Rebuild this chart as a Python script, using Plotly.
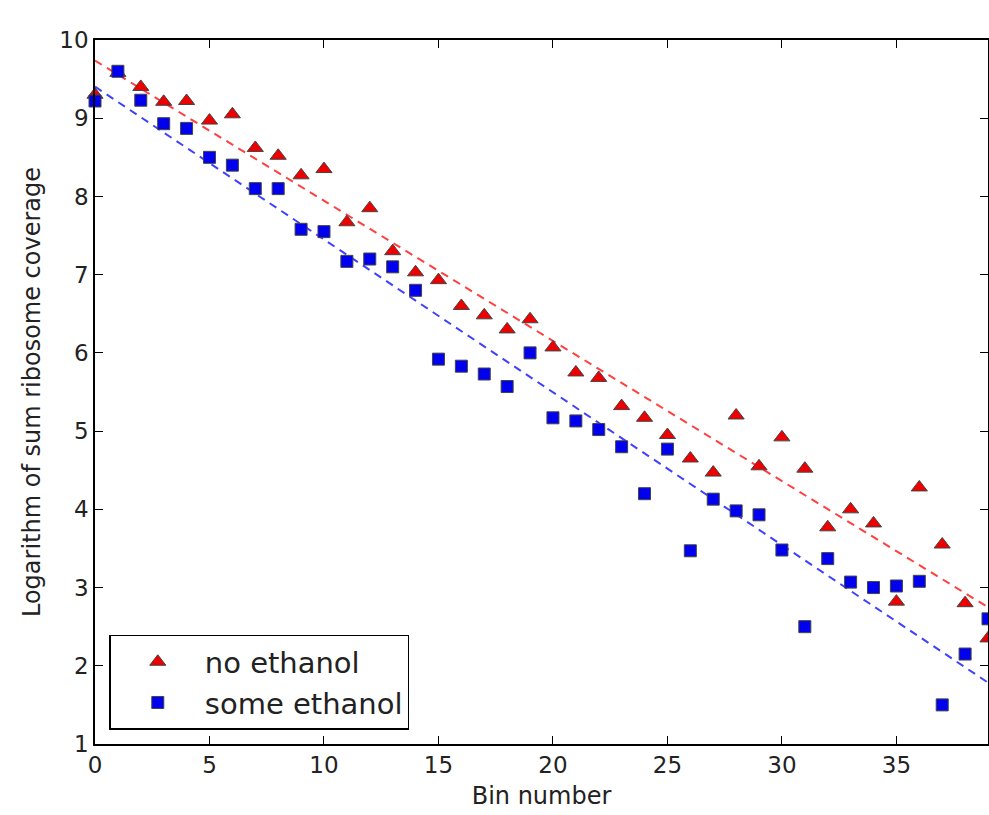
import numpy as np
import plotly.graph_objects as go

bins = list(range(40))
no_ethanol = [9.30, 9.58, 9.40, 9.21, 9.22, 8.97, 9.05, 8.62, 8.52, 8.27,
              8.35, 7.67, 7.85, 7.30, 7.03, 6.93, 6.60, 6.48, 6.30, 6.43,
              6.07, 5.75, 5.68, 5.32, 5.17, 4.95, 4.65, 4.47, 5.20, 4.55,
              4.92, 4.52, 3.77, 4.00, 3.82, 2.82, 4.28, 3.55, 2.80, 2.35]
some_ethanol = [9.22, 9.60, 9.23, 8.93, 8.87, 8.50, 8.40, 8.10, 8.10, 7.58,
                7.55, 7.17, 7.20, 7.10, 6.80, 5.92, 5.83, 5.73, 5.57, 6.00,
                5.17, 5.13, 5.02, 4.80, 4.20, 4.77, 3.47, 4.13, 3.98, 3.93,
                3.48, 2.50, 3.37, 3.07, 3.00, 3.02, 3.08, 1.50, 2.15, 2.60]
x_ticks = [0, 5, 10, 15, 20, 25, 30, 35]
y_ticks = [1, 2, 3, 4, 5, 6, 7, 8, 9, 10]

xb = np.array(bins, dtype=float)
fit_red = np.polyval(np.polyfit(xb, no_ethanol, 1), xb)
fit_blue = np.polyval(np.polyfit(xb, some_ethanol, 1), xb)

FONT = "DejaVu Sans"
TXT = "#222222"
fig = go.Figure()
fig.add_trace(go.Scatter(x=bins, y=fit_red, mode="lines", showlegend=False,
                         line=dict(color="rgba(255,30,30,0.85)", width=2, dash="8px,6px"),
                         hoverinfo="skip"))
fig.add_trace(go.Scatter(x=bins, y=fit_blue, mode="lines", showlegend=False,
                         line=dict(color="rgba(30,30,255,0.85)", width=2, dash="8px,6px"),
                         hoverinfo="skip"))
fig.add_trace(go.Scatter(x=bins, y=no_ethanol, mode="markers", name="no ethanol",
                         marker=dict(symbol="triangle-up", size=14, color="#ee0000",
                                     line=dict(color="#444444", width=1)),
                         cliponaxis=False))
fig.add_trace(go.Scatter(x=bins, y=some_ethanol, mode="markers", name="some ethanol",
                         marker=dict(symbol="square", size=12, color="#0000ee",
                                     line=dict(color="#444444", width=1)),
                         cliponaxis=False))

axis_common = dict(showline=True, linecolor="black", linewidth=1.5, mirror="allticks",
                   ticks="inside", ticklen=8, tickwidth=1, tickcolor="black",
                   showgrid=False, zeroline=False, automargin=False,
                   tickfont=dict(family=FONT, size=23, color=TXT))
fig.update_xaxes(range=[0, 39], tickvals=x_ticks, ticktext=[str(v) for v in x_ticks],
                 title=dict(text="Bin number", font=dict(family=FONT, size=24, color=TXT),
                            standoff=10),
                 **axis_common)
fig.update_yaxes(range=[1, 10], tickvals=y_ticks, ticktext=[str(v) for v in y_ticks],
                 title=dict(text="Logarithm of sum ribosome coverage",
                            font=dict(family=FONT, size=24, color=TXT), standoff=12),
                 **axis_common)
fig.update_layout(
    width=989, height=815,
    margin=dict(l=95, r=1, t=40, b=71),
    plot_bgcolor="white", paper_bgcolor="white",
    font=dict(family=FONT, color=TXT),
    legend=dict(x=0.016, y=0.02, xanchor="left", yanchor="bottom",
                bgcolor="white", bordercolor="black", borderwidth=1.5,
                font=dict(family=FONT, size=29, color=TXT),
                itemwidth=84, tracegroupgap=0),
)
fig.write_html("out.html", config={"displayModeBar": False},
               post_script="document.body.style.margin='0';")
